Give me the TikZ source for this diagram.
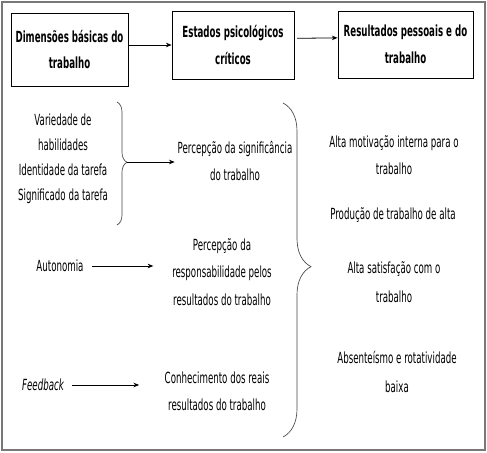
\documentclass[tikz,border=0pt]{standalone}
\usepackage{fontspec}
\setmainfont{DejaVu Sans}[FakeStretch=0.565]
\usetikzlibrary{arrows.meta,positioning,decorations.pathreplacing,calc}
\definecolor{frGrey}{RGB}{120,120,120}
\definecolor{brGrey}{RGB}{70,70,70}

\begin{document}
\begin{tikzpicture}[
  x=0.75pt,y=-0.75pt,
  >={Stealth[length=1.5mm,width=1.2mm]},
  every node/.style={font=\fontsize{11.5pt}{20pt}\selectfont,align=center,inner sep=2pt},
  stage/.style={draw,line width=0.6pt,font=\bfseries\fontsize{11.5pt}{20pt}\selectfont},
  link/.style={->,line width=0.6pt},
  curly/.style={decorate,decoration={brace,amplitude=#1,aspect=0.49},
                draw=brGrey,line width=0.5pt}
]
\useasboundingbox (0,0) rectangle (487,453);
\draw[frGrey,line width=0.8pt] (2,2) rectangle (485,450);

% top row: the three stages
\node[stage,minimum width=87.8pt,minimum height=54.8pt] (dim) at (69.5,49.5)
  {Dimensões básicas do\\trabalho};
\node[stage,minimum width=91.5pt,minimum height=51pt] (est) at (233,45)
  {Estados psicológicos\\críticos};
\node[stage,minimum width=101.3pt,minimum height=50.3pt] (res) at (405.5,44.5)
  {Resultados pessoais e do\\trabalho};

\draw[link] (dim.east |- est.west) -- (est.west);
\draw[link] ([xshift=2pt,yshift=5pt]est.east) -- ([yshift=5pt]res.west);

% left column: job dimensions
\node[font=\fontsize{11.5pt}{18.8pt}\selectfont] (skills) at (63,159)
  {Variedade de\\habilidades\\Identidade da tarefa\\Significado da tarefa};
\node (auton) at (60,266) {Autonomia};
\node (feed) at (43,385) {\itshape Feedback};

% middle column: psychological states
\node (sig) at (235,161) {Percepção da significância\\do trabalho};
\node[font=\fontsize{11.5pt}{20.5pt}\selectfont] (resp) at (222,272)
  {Percepção da\\responsabilidade pelos\\resultados do trabalho};
\node (conh) at (217,391) {Conhecimento dos reais\\resultados do trabalho};

% right column: outcomes
\node (mot) at (394,155) {Alta motivação interna para o\\trabalho};
\node (prod) at (393,215) {Produção de trabalho de alta};
\node[font=\fontsize{11.5pt}{21.5pt}\selectfont] (sat) at (394,282)
  {Alta satisfação com o\\trabalho};
\node[font=\fontsize{11.5pt}{21.5pt}\selectfont] (abs) at (397,372)
  {Absenteísmo e rotatividade\\baixa};

% braces
\draw[curly=7.5pt] (117,102) -- (117,225);
\coordinate (tipS) at (127,162);
\draw[curly=21pt] (283,103) -- (283,437);

\draw[link] (tipS) -- (tipS -| sig.west);
\draw[link,shorten <=4pt,shorten >=12pt] (auton) -- (auton -| resp.west);
\draw[link,shorten <=4pt,shorten >=17pt] (feed) -- (feed -| conh.west);
\end{tikzpicture}
\end{document}
